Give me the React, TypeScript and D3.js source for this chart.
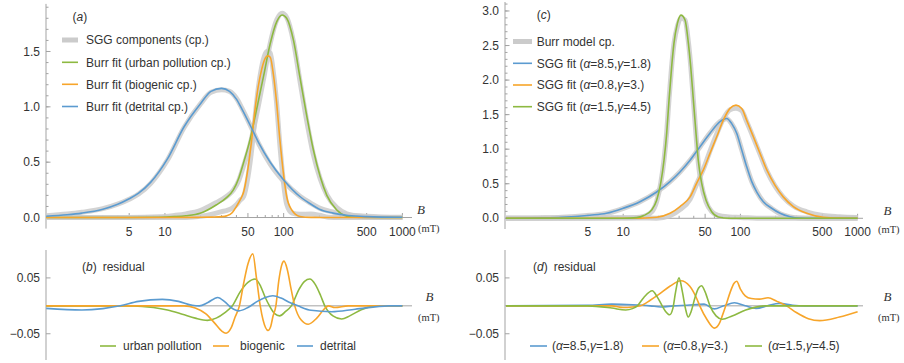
import React from 'react';
import * as d3 from 'd3';

type Pt = [number, number];

// ---------- (a) component curves: [B (mT), density] ----------
const urbanSGG: Pt[] = [[1,0],[5,0],[9,0.006],[12,0.019],[15,0.033],[19.8,0.062],[27,0.135],[33,0.19],[37.7,0.248],[42,0.338],[45.8,0.46],[52,0.656],[59,0.923],[67.5,1.244],[77,1.572],[87.5,1.786],[97,1.846],[106,1.808],[121,1.588],[137,1.237],[157,0.863],[178,0.567],[203,0.35],[231,0.205],[280,0.089],[340,0.034],[400,0.015],[590,0],[1000,0]];
const urbanBurr: Pt[] = [[1,0],[5,0],[9,0.002],[12,0.008],[15,0.016],[19.8,0.038],[27,0.113],[33,0.18],[37.7,0.25],[42,0.36],[45.8,0.49],[52,0.70],[59,0.97],[67.5,1.27],[77,1.57],[87.5,1.77],[97,1.83],[106,1.80],[121,1.60],[137,1.27],[157,0.91],[178,0.61],[203,0.37],[231,0.20],[280,0.068],[340,0.012],[400,0.002],[1000,0]];
const biogenicSGG: Pt[] = [[1,0],[10,0],[15,0.001],[20,0.011],[25,0.03],[30,0.053],[33,0.063],[37,0.085],[40,0.115],[43,0.157],[46,0.19],[50,0.365],[54,0.63],[57,0.875],[61,1.16],[65,1.35],[70,1.48],[73,1.503],[77,1.486],[82,1.305],[87,1.046],[93,0.65],[100,0.30],[106,0.122],[117,0.043],[137,0.03],[170,0.031],[200,0.02],[238,0.002],[300,0],[1000,0]];
const biogenicBurr: Pt[] = [[1,0],[10,0],[20,0.002],[25,0.004],[30,0.008],[33,0.015],[37,0.045],[40,0.1],[43,0.16],[46,0.23],[50,0.44],[54,0.72],[57,0.95],[61,1.18],[65,1.33],[70,1.44],[73,1.46],[77,1.45],[82,1.29],[87,1.05],[93,0.70],[100,0.38],[106,0.19],[117,0.068],[137,0.01],[170,0.001],[250,0],[1000,0]];
const detritalSGG: Pt[] = [[1,0.0165],[1.5,0.031],[2,0.0475],[3,0.08],[4,0.121],[5,0.166],[6,0.212],[7.6,0.309],[10.5,0.519],[14.5,0.814],[20,1.029],[24.4,1.131],[30,1.155],[35,1.14],[40,1.078],[45,0.977],[53,0.82],[62,0.661],[77,0.483],[100,0.328],[137,0.192],[170,0.128],[200,0.085],[260,0.0505],[350,0.026],[500,0.012],[1000,0.002]];
const detritalBurr: Pt[] = [[1,0.012],[1.5,0.025],[2,0.04],[3,0.075],[4,0.12],[5,0.17],[6,0.22],[7.6,0.32],[10.5,0.53],[14.5,0.82],[20,1.03],[24.4,1.14],[30,1.167],[35,1.14],[40,1.07],[45,0.97],[53,0.82],[62,0.67],[77,0.5],[100,0.34],[137,0.19],[170,0.12],[200,0.075],[260,0.04],[350,0.018],[500,0.008],[1000,0.002]];

// ---------- (b) residuals ----------
const resUrban: Pt[] = [[1,0],[5.4,0],[8,-0.003],[10.5,-0.0075],[14,-0.015],[18,-0.022],[22.8,-0.026],[27,-0.022],[32,-0.012],[37,0],[43,0.025],[50,0.042],[57.5,0.048],[64,0.035],[70,0.015],[76,0],[84,-0.014],[92.5,-0.018],[104,-0.01],[116,0],[135,0.03],[150,0.044],[166,0.048],[185,0.038],[205,0.018],[222,0],[260,-0.018],[308,-0.0235],[360,-0.018],[450,-0.007],[590,0],[1000,0]];
const resBiogenic: Pt[] = [[1,0],[14.5,0],[18,-0.004],[22,-0.014],[26,-0.03],[30,-0.045],[32.7,-0.049],[36,-0.04],[39,-0.02],[42.4,0],[46,0.04],[50,0.075],[55,0.093],[59,0.05],[63.5,0],[67,-0.025],[73.8,-0.044],[78,-0.036],[81,-0.02],[86,0],[91,0.045],[96,0.072],[100.7,0.08],[107,0.066],[116,0.028],[124,0],[140,-0.025],[161,-0.033],[190,-0.022],[215,-0.008],[238,0],[270,-0.003],[350,0],[1000,0]];
const resDetrital: Pt[] = [[1,-0.0045],[2,-0.0075],[3,-0.005],[4.2,0],[6,0.008],[9.5,0.0115],[13,0.008],[17,0.001],[19.5,0],[23,0.006],[27.8,0.015],[32,0.007],[36,-0.003],[42,-0.009],[50,-0.003],[60,0.008],[70,0.015],[81,0.018],[95,0.014],[110,0.007],[132,0],[170,-0.008],[254,-0.0105],[400,-0.006],[767,0],[1000,0]];

// ---------- (c) Burr model components and SGG fits ----------
const burrModel1: Pt[] = [[1,0],[2,0.006],[3,0.015],[5.2,0.044],[7.2,0.069],[10,0.142],[13.9,0.238],[19.3,0.38],[25.1,0.531],[30.5,0.67],[37.2,0.839],[45.2,1.033],[55,1.233],[67,1.40],[76.4,1.442],[84.3,1.366],[93,1.226],[102.6,0.99],[113,0.75],[125,0.532],[138,0.384],[157,0.24],[185,0.142],[218,0.067],[265,0.021],[323,0.003],[400,0],[1000,0]];
const sggFit1: Pt[] = [[1,0],[2,0.006],[3,0.015],[5.2,0.045],[7.2,0.072],[10,0.145],[13.9,0.24],[19.3,0.38],[25.1,0.53],[30.5,0.67],[37.2,0.84],[45.2,1.035],[55,1.23],[67,1.40],[76.4,1.445],[84.3,1.37],[93,1.23],[102.6,0.99],[113,0.75],[125,0.53],[138,0.38],[157,0.24],[185,0.145],[218,0.072],[265,0.023],[323,0.003],[400,0],[1000,0]];
const burrModel2: Pt[] = [[1,0],[10,0.003],[14,0.003],[19.3,0.002],[25.1,0.037],[30.5,0.125],[37.2,0.275],[42.4,0.498],[48.3,0.712],[55,0.972],[62.8,1.22],[71.5,1.44],[81.5,1.572],[91.7,1.593],[102.6,1.558],[113,1.40],[129,1.167],[147,0.928],[168,0.686],[197,0.47],[232,0.307],[283,0.178],[368,0.094],[509,0.041],[700,0.023],[1000,0.0105]];
const sggFit2: Pt[] = [[1,0],[10,0],[14,0.003],[19.3,0.015],[25.1,0.072],[30.5,0.17],[37.2,0.31],[42.4,0.51],[48.3,0.70],[55,0.94],[62.8,1.18],[71.5,1.42],[81.5,1.59],[91.7,1.637],[102.6,1.59],[113,1.42],[129,1.18],[147,0.94],[168,0.70],[197,0.48],[232,0.31],[283,0.17],[368,0.072],[509,0.015],[700,0.003],[1000,0]];
const burrModel3: Pt[] = [[1,0],[10,0.007],[13,0.01],[15,0.028],[17.5,0.093],[19.3,0.244],[20.9,0.505],[22.3,0.847],[23.5,1.242],[24.6,1.725],[25.9,2.2],[27.1,2.525],[29,2.78],[31.1,2.9],[33.7,2.87],[36,2.55],[37.7,2.205],[39.7,1.71],[41.8,1.21],[43.7,0.808],[46.7,0.474],[50.9,0.238],[56.9,0.095],[64.8,0.04],[80,0.02],[100,0.013],[164,0],[1000,0]];
const sggFit3: Pt[] = [[1,0],[10,0],[13,0.01],[15,0.04],[17.5,0.12],[19.3,0.26],[20.9,0.51],[22.3,0.84],[23.5,1.23],[24.6,1.71],[25.9,2.19],[27.1,2.53],[29,2.82],[31.1,2.94],[33.7,2.87],[36,2.53],[37.7,2.19],[39.7,1.71],[41.8,1.23],[43.7,0.84],[46.7,0.51],[50.9,0.26],[56.9,0.095],[64.8,0.02],[80,0],[1000,0]];

// ---------- (d) residuals ----------
const resFit1: Pt[] = [[1,0],[5,0.001],[8,0.003],[12,0.002],[17,0],[21,-0.002],[27,0],[35,0.001],[49,0.003],[60,-0.0055],[72,0],[89,0.0055],[110,0],[136,-0.0045],[170,0],[214,0.0045],[280,0.001],[357,0],[1000,0]];
const resFit2: Pt[] = [[1,0],[8,0],[10,-0.003],[12,-0.002],[14,0],[17,0.01],[20,0.02],[25,0.035],[31,0.045],[37,0.035],[42,0.015],[45,0],[52,-0.025],[60,-0.04],[66,-0.032],[70,-0.018],[75,0],[82,0.025],[88,0.04],[93,0.044],[100,0.03],[110,0.018],[124,0.013],[145,0.012],[172,0.0145],[205,0.008],[247,0],[300,-0.012],[380,-0.023],[475,-0.0265],[700,-0.02],[1000,-0.0105]];
const resFit3: Pt[] = [[1,0],[5,0],[8,-0.004],[10.5,-0.0075],[12,-0.005],[13.2,0],[15,0.015],[17.7,0.027],[19.5,0.016],[21.5,0],[23,-0.01],[24.9,-0.016],[26.5,-0.005],[28,0.025],[29.9,0.05],[32,0.025],[34,-0.005],[35.9,-0.02],[38,-0.01],[41,0.015],[44,0.032],[46.6,0.036],[50,0.025],[55,0],[62,-0.018],[70,-0.024],[85,-0.018],[111,-0.0075],[164,0],[1000,0]];

// ---------- ticks and labels ----------
const xTickLabels = [5, 10, 50, 100, 500, 1000];
const xMinorTicks = [2, 3, 4, 6, 7, 8, 9, 20, 30, 40, 60, 70, 80, 90, 200, 300, 400, 600, 700, 800, 900];
const yTicksA = [0, 0.5, 1.0, 1.5];
const yTicksC = [0, 0.5, 1.0, 1.5, 2.0, 2.5, 3.0];
const yTicksRes = [-0.05, 0.05];
const legendA = ['SGG components (cp.)', 'Burr fit (urban pollution cp.)', 'Burr fit (biogenic cp.)', 'Burr fit (detrital cp.)'];
const legendB = ['urban pollution', 'biogenic', 'detrital'];
const alphaValues = ['8.5', '0.8', '1.5'];
const gammaValues = ['1.8', '3.', '4.5'];

const SANS = '"Liberation Sans", Arial, Helvetica, sans-serif';
const SERIF = '"Liberation Serif", "Times New Roman", serif';
const BLUE = '#5b9bd0';
const ORANGE = '#f7a52a';
const GREEN = '#8db941';
const GRAY = '#cbcbcb';
const AXIS = '#a3a3a3';
const TEXT = '#333';

type Scale = (v: number) => number;

function path(x: Scale, y: Scale, data: Pt[]): string {
  return d3.line<Pt>().x(d => x(d[0])).y(d => y(d[1])).curve(d3.curveMonotoneX)(data) || '';
}

function fmt(v: number, digits: number) {
  return v < 0 ? '\u2212' + Math.abs(v).toFixed(digits) : v.toFixed(digits);
}

function Params({ a, g }: { a: string; g: string }) {
  return (
    <>
      (<tspan fontStyle="italic">α</tspan>={a},<tspan fontStyle="italic">γ</tspan>={g})
    </>
  );
}

function PanelLetter({ x, y, letter, extra }: { x: number; y: number; letter: string; extra?: string }) {
  return (
    <text x={x} y={y} fontSize={12} fill={TEXT} fontFamily={SANS} dy="0.35em">
      (<tspan fontStyle="italic">{letter}</tspan>){extra ? <tspan dx={6}>{extra}</tspan> : null}
    </text>
  );
}

function MainAxes({ x, y, axisX, xEnd, yTicks, yMax, bx, mtx }:
  { x: any; y: any; axisX: number; xEnd: number; yTicks: number[]; yMax: number; bx: number; mtx: number }) {
  const y0 = y(0);
  const [dLo, dHi] = y.domain();
  const minors = d3.range(0, Math.round(yMax * 10) + 1).map(i => i / 10);
  return (
    <g>
      <line x1={axisX} x2={axisX} y1={y(dHi)} y2={y(dLo)} stroke={AXIS} strokeWidth={1} />
      <line x1={axisX} x2={xEnd} y1={y0} y2={y0} stroke={AXIS} strokeWidth={1} />
      {minors.map(v => (
        <line key={'ym' + v} x1={axisX} x2={axisX + 2.5} y1={y(v)} y2={y(v)} stroke={AXIS} />
      ))}
      {yTicks.map(v => (
        <g key={'y' + v}>
          <line x1={axisX} x2={axisX + 4.5} y1={y(v)} y2={y(v)} stroke={AXIS} />
          <text x={axisX - 6} y={y(v)} dy="0.35em" textAnchor="end" fontSize={12} fill={TEXT} fontFamily={SANS}>
            {v.toFixed(1)}
          </text>
        </g>
      ))}
      {xMinorTicks.map(v => (
        <line key={'xm' + v} x1={x(v)} x2={x(v)} y1={y0} y2={y0 - 2.5} stroke={AXIS} />
      ))}
      {xTickLabels.map(v => (
        <g key={'x' + v}>
          <line x1={x(v)} x2={x(v)} y1={y0} y2={y0 - 4.5} stroke={AXIS} />
          <text x={x(v)} y={y0 + 14} dy="0.35em" textAnchor="middle" fontSize={12} fill={TEXT} fontFamily={SANS}>
            {v}
          </text>
        </g>
      ))}
      <text x={bx} y={y0 - 8} dy="0.35em" textAnchor="middle" fontSize={13} fontStyle="italic" fill={TEXT} fontFamily={SERIF}>B</text>
      <text x={mtx} y={y0 + 11} dy="0.35em" fontSize={10.5} fill={TEXT} fontFamily={SERIF}>(mT)</text>
    </g>
  );
}

function ResAxes({ y, axisX, xEnd, bx, mtx }: { y: any; axisX: number; xEnd: number; bx: number; mtx: number }) {
  const [dLo, dHi] = y.domain();
  const y0 = y(0);
  return (
    <g>
      <line x1={axisX} x2={axisX} y1={y(dHi)} y2={y(dLo)} stroke={AXIS} />
      <line x1={axisX} x2={xEnd} y1={y0} y2={y0} stroke={AXIS} />
      {yTicksRes.map(v => (
        <g key={'r' + v}>
          <line x1={axisX} x2={axisX + 4.5} y1={y(v)} y2={y(v)} stroke={AXIS} />
          <text x={axisX - 6} y={y(v)} dy="0.35em" textAnchor="end" fontSize={12} fill={TEXT} fontFamily={SANS}>
            {fmt(v, 2)}
          </text>
        </g>
      ))}
      <text x={bx} y={y0 - 9} dy="0.35em" textAnchor="middle" fontSize={13} fontStyle="italic" fill={TEXT} fontFamily={SERIF}>B</text>
      <text x={mtx} y={y0 + 11.5} dy="0.35em" fontSize={10.5} fill={TEXT} fontFamily={SERIF}>(mT)</text>
    </g>
  );
}

export default function App() {
  const xL = d3.scaleLog().domain([1, 1000]).range([46.2, 402.4]);
  const xR = d3.scaleLog().domain([1, 1000]).range([506, 857.6]);
  const yA = d3.scaleLinear().domain([-0.1, 1.93]).range([228.6, 3.9]);
  const yC = d3.scaleLinear().domain([-0.155, 3.13]).range([229, 2]);
  const yB = d3.scaleLinear().domain([-0.097, 0.1]).range([360, 250]);
  const yD = d3.scaleLinear().domain([-0.097, 0.1]).range([360, 250]);

  const grayStyle = { fill: 'none', stroke: GRAY, strokeWidth: 5, strokeOpacity: 0.85, strokeLinejoin: 'round' as const };
  const lineStyle = (c: string) => ({ fill: 'none', stroke: c, strokeWidth: 1.6, strokeLinejoin: 'round' as const });

  const aColors = [GRAY, GREEN, ORANGE, BLUE];
  const aRowsY = [40, 62.3, 84.3, 106.5];
  const cColors = [GRAY, BLUE, ORANGE, GREEN];
  const cRowsY = [41.5, 63.3, 85, 106.7];
  const bLegend = [
    { x: 100, tx: 123, c: GREEN },
    { x: 213, tx: 240, c: ORANGE },
    { x: 297, tx: 320, c: BLUE },
  ];
  const dLegend = [
    { x: 530, tx: 552, c: BLUE },
    { x: 642, tx: 663, c: ORANGE },
    { x: 745, tx: 768, c: GREEN },
  ];

  return (
    <svg width={904} height={363} viewBox="0 0 904 363"
      style={{ position: 'absolute', left: 0, top: 0, background: '#fff' }}>
      <rect width={904} height={363} fill="#fff" />

      {/* (a) components */}
      <MainAxes x={xL} y={yA} axisX={46} xEnd={412} yTicks={yTicksA} yMax={1.9} bx={421} mtx={418} />
      {[urbanSGG, biogenicSGG, detritalSGG].map((d, i) => (
        <path key={'ga' + i} d={path(xL, yA, d)} {...grayStyle} />
      ))}
      <path d={path(xL, yA, urbanBurr)} {...lineStyle(GREEN)} />
      <path d={path(xL, yA, biogenicBurr)} {...lineStyle(ORANGE)} />
      <path d={path(xL, yA, detritalBurr)} {...lineStyle(BLUE)} />
      <PanelLetter x={72.5} y={16.7} letter="a" />
      {legendA.map((s, i) => (
        <g key={'la' + i}>
          <line x1={62} x2={78} y1={aRowsY[i]} y2={aRowsY[i]} stroke={aColors[i]}
            strokeWidth={i === 0 ? 5 : 1.6} />
          <text x={86} y={aRowsY[i]} dy="0.35em" fontSize={12} fill={TEXT} fontFamily={SANS}>{s}</text>
        </g>
      ))}

      {/* (b) residuals */}
      <ResAxes y={yB} axisX={46} xEnd={412} bx={429.5} mtx={418} />
      <path d={path(xL, yB, resUrban)} {...lineStyle(GREEN)} />
      <path d={path(xL, yB, resBiogenic)} {...lineStyle(ORANGE)} />
      <path d={path(xL, yB, resDetrital)} {...lineStyle(BLUE)} />
      <PanelLetter x={82} y={266.7} letter="b" extra="residual" />
      {bLegend.map((l, i) => (
        <g key={'lb' + i}>
          <line x1={l.x} x2={l.x + 16} y1={346} y2={346} stroke={l.c} strokeWidth={1.6} />
          <text x={l.tx} y={346} dy="0.35em" fontSize={12} fill={TEXT} fontFamily={SANS}>{legendB[i]}</text>
        </g>
      ))}

      {/* (c) Burr model components and SGG fits */}
      <MainAxes x={xR} y={yC} axisX={505} xEnd={863} yTicks={yTicksC} yMax={3.1} bx={887.5} mtx={878} />
      {[burrModel1, burrModel2, burrModel3].map((d, i) => (
        <path key={'gc' + i} d={path(xR, yC, d)} {...grayStyle} />
      ))}
      <path d={path(xR, yC, sggFit1)} {...lineStyle(BLUE)} />
      <path d={path(xR, yC, sggFit2)} {...lineStyle(ORANGE)} />
      <path d={path(xR, yC, sggFit3)} {...lineStyle(GREEN)} />
      <PanelLetter x={536.7} y={15} letter="c" />
      {cColors.map((c, i) => (
        <g key={'lc' + i}>
          <line x1={513} x2={532} y1={cRowsY[i]} y2={cRowsY[i]} stroke={c} strokeWidth={i === 0 ? 5 : 1.6} />
          <text x={536.7} y={cRowsY[i]} dy="0.35em" fontSize={12} fill={TEXT} fontFamily={SANS}>
            {i === 0 ? 'Burr model cp.' : <>SGG fit <Params a={alphaValues[i - 1]} g={gammaValues[i - 1]} /></>}
          </text>
        </g>
      ))}

      {/* (d) residuals */}
      <ResAxes y={yD} axisX={505} xEnd={863} bx={887.5} mtx={878} />
      <path d={path(xR, yD, resFit1)} {...lineStyle(BLUE)} />
      <path d={path(xR, yD, resFit2)} {...lineStyle(ORANGE)} />
      <path d={path(xR, yD, resFit3)} {...lineStyle(GREEN)} />
      <PanelLetter x={533} y={266.7} letter="d" extra="residual" />
      {dLegend.map((l, i) => (
        <g key={'ld' + i}>
          <line x1={l.x} x2={l.x + 17} y1={346} y2={346} stroke={l.c} strokeWidth={1.6} />
          <text x={l.tx} y={346} dy="0.35em" fontSize={12} fill={TEXT} fontFamily={SANS}>
            <Params a={alphaValues[i]} g={gammaValues[i]} />
          </text>
        </g>
      ))}
    </svg>
  );
}
